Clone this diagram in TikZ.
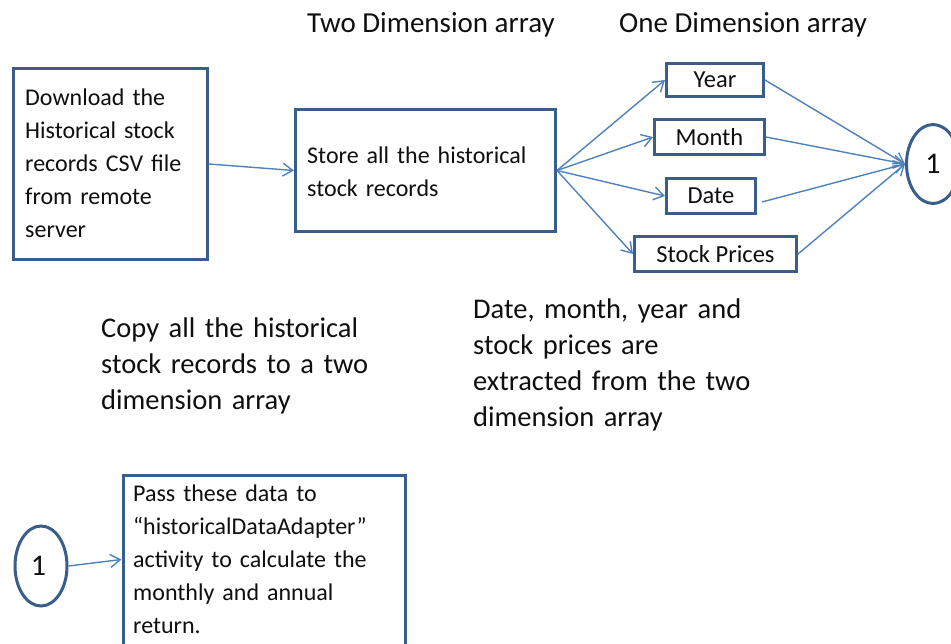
\documentclass[tikz,border=0pt]{standalone}
\usepackage{fontspec}
\setmainfont{Carlito}
\usetikzlibrary{arrows.meta,shapes.geometric}

\definecolor{boxline}{RGB}{58,94,140}
\definecolor{arrowline}{RGB}{79,129,189}
\definecolor{ink}{RGB}{15,15,15}

\tikzset{
  frame/.style={draw=boxline, line width=3pt, fill=white, rectangle, inner sep=0pt, text=ink,
                font=\fontsize{24.5}{33}\selectfont},
  bubble/.style={draw=boxline, line width=3pt, fill=white, ellipse, inner sep=0pt, text=ink,
                 font=\fontsize{30}{33}\selectfont},
  boxtext/.style={anchor=base west, inner sep=0pt, text=ink, align=left, text width=280pt,
                  font=\fontsize{24}{33}\selectfont},
  freetext/.style={anchor=base west, inner sep=0pt, text=ink, align=left, text width=320pt,
                   font=\fontsize{28.5}{36}\selectfont},
  heading/.style={anchor=base west, inner sep=0pt, text=ink,
                  font=\fontsize{29}{34}\selectfont},
  flow/.style={draw=arrowline, line width=1.4pt, -{Straight Barb[length=10pt,width=13pt]}},
}

\begin{document}
\begin{tikzpicture}[x=1pt, y=-1pt]
  \useasboundingbox (0,0) rectangle (951,643);
  \clip (0,0) rectangle (951,643);

  % column headings
  \node[heading] (h2d) at (307,32) {Two Dimension array};
  \node[heading] (h1d) at (619,32) {One Dimension array};

  % download step
  \node[frame, minimum width=194pt, minimum height=191pt] (dl) at (110.5,164) {};
  \node[boxtext] (dl-text) at (25,105)
    {Download the\\Historical stock\\records CSV file\\from remote\\server};

  % two dimension store
  \node[frame, minimum width=260pt, minimum height=122pt] (st) at (425.5,170.5) {};
  \node[boxtext] (st-text) at (307,163)
    {Store all the historical\\stock records};

  % one dimension arrays
  \node[frame, minimum width=97pt,  minimum height=33pt] (year)  at (715,80)    {Year};
  \node[frame, minimum width=110pt, minimum height=35pt] (month) at (709.5,137) {Month};
  \node[frame, minimum width=89pt,  minimum height=35pt] (date)  at (711,196)   {Date};
  \node[frame, minimum width=162pt, minimum height=35pt] (stock) at (715.5,254) {Stock Prices};

  % connector bubbles
  \node[bubble, minimum width=53pt, minimum height=79pt] (c1) at (933,164) {1};
  \node[bubble, minimum width=52pt, minimum height=80pt] (c2) at (41,566) {\hspace*{-5pt}1};

  % explanatory notes
  \node[freetext] (copy-note) at (101,337)
    {Copy all the historical\\stock records to a two\\dimension array};
  \node[freetext] (extract-note) at (473,318)
    {Date, month, year and\\stock prices are\\extracted from the two\\dimension array};

  % final step
  \node[frame, anchor=north west, minimum width=282pt, minimum height=200pt] (pass) at (121.5,473.5) {};
  \node[boxtext] (pass-text) at (133,501)
    {Pass these data to\\“historicalDataAdapter”\\activity to calculate the\\monthly and annual\\return.};
  \coordinate (pass-in) at ([yshift=-86pt]pass.north west);

  % connectors
  \draw[flow] (dl.east) -- (st.west);
  \draw[flow] (st.east) -- (year.west);
  \draw[flow] (st.east) -- (month.west);
  \draw[flow] (st.east) -- (date.west);
  \draw[flow] (st.east) -- (stock.west);
  \draw[flow] (year.east)  -- (c1.west);
  \draw[flow] (month.east) -- (c1.west);
  \draw[flow] ([xshift=5pt,yshift=-6pt]date.east) -- (c1.west);
  \draw[flow] (stock.east) -- (c1.west);
  \draw[flow] (c2.east) -- (pass-in);
\end{tikzpicture}
\end{document}
